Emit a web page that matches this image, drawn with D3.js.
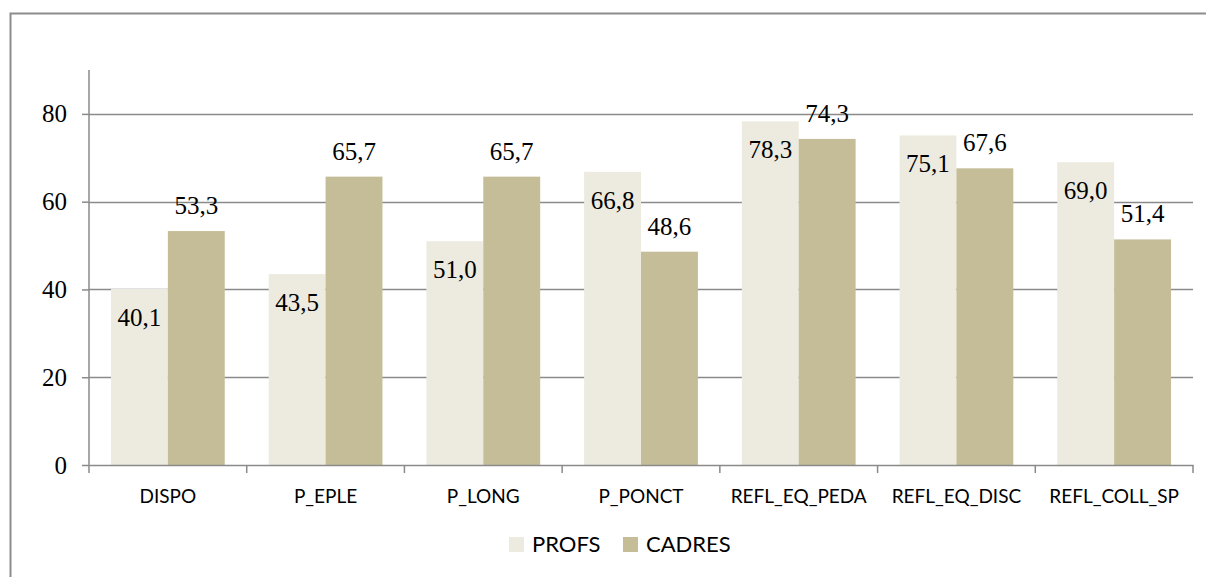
<!DOCTYPE html>
<html>
<head>
<meta charset="utf-8">
<script src="https://cdn.jsdelivr.net/npm/d3@7"></script>
<style>
  html, body { margin: 0; padding: 0; background: #fff; }
  svg { display: block; }
</style>
</head>
<body>
<svg id="chart" width="1206" height="577"></svg>
<script>
// Categories and series values
const categories = ["DISPO", "P_EPLE", "P_LONG", "P_PONCT", "REFL_EQ_PEDA", "REFL_EQ_DISC", "REFL_COLL_SP"];
const profs  = [40.1, 43.5, 51.0, 66.8, 78.3, 75.1, 69.0];
const cadres = [53.3, 65.7, 65.7, 48.6, 74.3, 67.6, 51.4];
const seriesNames = ["PROFS", "CADRES"];
const yTicks = [0, 20, 40, 60, 80];

const colors = ["#EDEBE0", "#C4BD97"];
const fmt = v => v.toFixed(1).replace(".", ",");

const serif = "'Liberation Serif', 'Times New Roman', serif";
const sans = "Lato, 'Open Sans', sans-serif";

const svg = d3.select("#chart");

// Outer frame
svg.append("rect")
  .attr("x", 10.5).attr("y", 13.5)
  .attr("width", 1220).attr("height", 600)
  .attr("fill", "none").attr("stroke", "#8c8c8c").attr("stroke-width", 2);

const plotLeft = 89, plotRight = 1193, plotTop = 70, plotBottom = 465;

const x0 = d3.scaleBand().domain(categories).range([plotLeft, plotRight]).paddingInner(0).paddingOuter(0);
const x1 = d3.scaleBand().domain(seriesNames).range([0, x0.bandwidth()]).paddingInner(0).paddingOuter(0.386);
const y = d3.scaleLinear().domain([0, 90]).range([plotBottom, plotTop]);

// Gridlines
svg.append("g").selectAll("line").data(yTicks.filter(t => t > 0)).join("line")
  .attr("x1", plotLeft).attr("x2", plotRight)
  .attr("y1", d => Math.round(y(d)) + 0.5).attr("y2", d => Math.round(y(d)) + 0.5)
  .attr("stroke", "#8a8a8a").attr("stroke-width", 1.5);

// Bars
const groups = svg.append("g").selectAll("g").data(categories).join("g")
  .attr("transform", d => `translate(${x0(d)},0)`);

const rows = (c, i) => [
  { s: "PROFS", v: profs[i], k: 0 },
  { s: "CADRES", v: cadres[i], k: 1 }
];

groups.selectAll("rect").data((c, i) => rows(c, i)).join("rect")
  .attr("x", d => x1(d.s))
  .attr("width", x1.bandwidth())
  .attr("y", d => y(d.v))
  .attr("height", d => plotBottom - y(d.v))
  .attr("fill", d => colors[d.k]);

// Y axis
const yAxis = svg.append("g").attr("transform", `translate(${plotLeft},0)`)
  .call(d3.axisLeft(y).tickValues(yTicks).tickSize(7).tickPadding(15).tickFormat(d3.format("d")));
yAxis.select(".domain").remove();
yAxis.selectAll(".tick line").attr("stroke", "#8a8a8a").attr("stroke-width", 1.5);
yAxis.selectAll("text").attr("font-family", serif)
  .attr("font-size", 25).attr("fill", "#000");
yAxis.append("line").attr("x1", 0).attr("x2", 0).attr("y1", plotTop).attr("y2", plotBottom)
  .attr("stroke", "#8a8a8a").attr("stroke-width", 1.5);

// X axis
const xAxis = svg.append("g").attr("transform", `translate(0,${plotBottom})`)
  .call(d3.axisBottom(x0).tickSize(0).tickPadding(25));
xAxis.select(".domain").attr("stroke", "#8a8a8a").attr("stroke-width", 1.5);
xAxis.selectAll("text").attr("font-family", sans)
  .attr("font-size", 19).attr("fill", "#000");
svg.append("g").selectAll("line")
  .data(categories.map(c => x0(c)).concat([plotRight])).join("line")
  .attr("x1", d => d).attr("x2", d => d)
  .attr("y1", plotBottom).attr("y2", plotBottom + 8)
  .attr("stroke", "#8a8a8a").attr("stroke-width", 1.5);

// Value labels: PROFS inside the bar top, CADRES above the bar
groups.selectAll("text.val").data((c, i) => rows(c, i)).join("text")
  .attr("class", "val")
  .attr("x", d => x1(d.s) + x1.bandwidth() / 2)
  .attr("y", d => d.k === 0 ? y(d.v) + 37 : y(d.v) - 17)
  .attr("text-anchor", "middle")
  .attr("font-family", serif)
  .attr("font-size", 25).attr("fill", "#000")
  .text(d => fmt(d.v));

// Legend
const legend = svg.append("g");
const legendItems = [{ name: "PROFS", x: 509 }, { name: "CADRES", x: 623 }];
legendItems.forEach((it, i) => {
  legend.append("rect").attr("x", it.x).attr("y", 537).attr("width", 15).attr("height", 15)
    .attr("fill", colors[i]);
  legend.append("text").attr("x", it.x + 23).attr("y", 552)
    .attr("font-family", sans).attr("font-size", 22).attr("fill", "#000")
    .text(it.name);
});
</script>
</body>
</html>
